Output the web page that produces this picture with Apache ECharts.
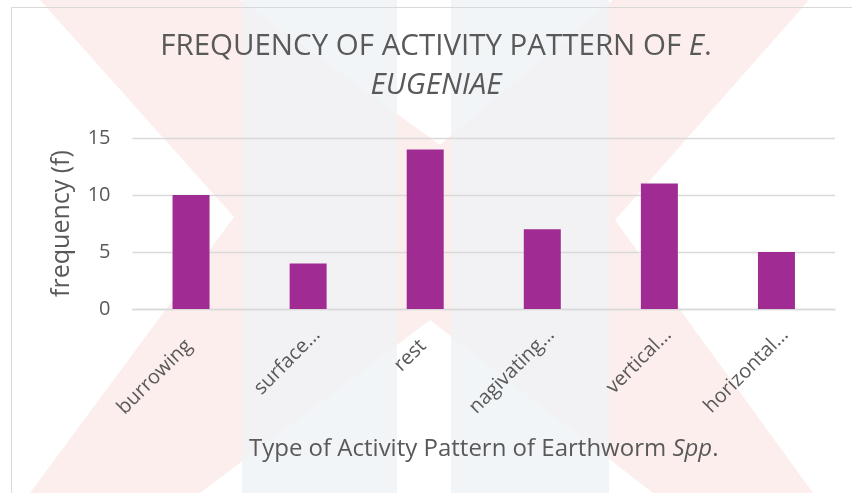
<!DOCTYPE html>
<html>
<head>
<meta charset="utf-8">
<script src="https://cdn.jsdelivr.net/npm/echarts@6/dist/echarts.min.js"></script>
<style>
  html, body { margin: 0; padding: 0; background: #fff; }
  #chart { width: 852px; height: 493px; }
</style>
</head>
<body>
<div id="chart"></div>
<script>
// data
const categories = ['burrowing', 'surface…', 'rest', 'nagivating…', 'vertical…', 'horizontal…']
const frequency = [10, 4, 14, 7, 11, 5]
const yTicks = { min: 0, max: 15, interval: 5 }

const font = 'Open Sans'
const textColor = '#595959'
const barColor = '#a02b93'

// faint watermark behind the chart (pink X + two blue bands)
const pink = '#fdeeee'
const blue = '#eef1f6'
let watermark = [
  {
    type: 'polygon', z: -20, silent: true,
    shape: {
      points: [[40, 0], [240, 0], [440, 145], [613, 0], [809, 0], [615, 220], [813, 493], [653, 493],
        [430, 320], [200, 493], [30, 493], [234, 217]]
    },
    style: { fill: pink }
  },
  { type: 'rect', z: -19, silent: true, shape: { x: 242, y: 0, width: 155, height: 493 }, style: { fill: blue, opacity: 0.75 } },
  { type: 'rect', z: -19, silent: true, shape: { x: 451, y: 0, width: 158, height: 493 }, style: { fill: blue, opacity: 0.75 } },
  { type: 'rect', z: -18, silent: true, shape: { x: 11.5, y: 7.5, width: 900, height: 600 }, style: { fill: 'none', stroke: '#d9d9d9', lineWidth: 1 } },
  {
    type: 'text', z: 10, silent: true, x: 436, y: 27.5,
    style: {
      text: '{n|FREQUENCY OF ACTIVITY PATTERN OF }{i|E}{n|.}\n{i|EUGENIAE}',
      align: 'center',
      rich: {
        n: { fontFamily: font, fontSize: 29.5, fill: textColor, lineHeight: 39 },
        i: { fontFamily: font, fontSize: 29.5, fill: textColor, fontStyle: 'italic', lineHeight: 39 }
      }
    }
  }
]

let chart = echarts.init(document.getElementById('chart'))
chart.setOption({
  animation: false,
  backgroundColor: '#fff',
  graphic: watermark,
  grid: { left: 132.5, right: 17, top: 138, bottom: 184 },
  xAxis: {
    type: 'category',
    data: categories,
    axisLine: { lineStyle: { color: '#d9d9d9', width: 1.3 } },
    axisTick: { show: false },
    axisLabel: {
      interval: 0, rotate: 45, margin: 14,
      verticalAlign: 'top',
      // Excel lets the truncation mark hang past the label box, so full words get an invisible one
      formatter: (v) => v.endsWith('…') ? '{t|' + v + '}' : '{t|' + v + '}{h|…}',
      rich: {
        t: { fontFamily: font, fontSize: 20, color: textColor, lineHeight: 25 },
        h: { fontFamily: font, fontSize: 20, color: 'rgba(0,0,0,0)', lineHeight: 25 }
      }
    },
    name: '{n|Type of Activity Pattern of Earthworm }{i|Spp}{n|.}',
    nameLocation: 'middle',
    nameGap: 128,
    nameTextStyle: {
      rich: {
        n: { fontFamily: font, fontSize: 24, color: textColor },
        i: { fontFamily: font, fontSize: 24, color: textColor, fontStyle: 'italic' }
      }
    }
  },
  yAxis: {
    type: 'value',
    min: yTicks.min, max: yTicks.max, interval: yTicks.interval,
    axisLine: { show: false },
    axisTick: { show: false },
    splitLine: { lineStyle: { color: '#d9d9d9', width: 1.3 } },
    axisLabel: { margin: 22, fontFamily: font, fontSize: 20, color: textColor },
    name: 'frequency (f)',
    nameLocation: 'middle',
    nameGap: 58,
    nameTextStyle: { fontFamily: font, fontSize: 25, color: textColor }
  },
  series: [
    {
      type: 'bar',
      data: frequency,
      barWidth: 37,
      itemStyle: { color: barColor }
    }
  ]
})
</script>
</body>
</html>
